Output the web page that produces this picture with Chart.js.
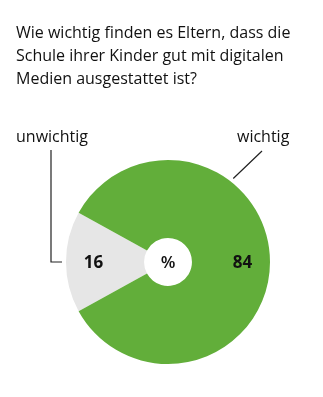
<!DOCTYPE html>
<html>
<head>
<meta charset="utf-8">
<script src="https://cdn.jsdelivr.net/npm/chart.js@4"></script>
<style>
  html, body { margin: 0; padding: 0; background: #fff; }
  #wrap { position: relative; width: 323px; height: 397px; }
  #title {
    position: absolute; left: 16px; top: 21px; width: 300px;
    font-family: "Open Sans", sans-serif; font-size: 16px; line-height: 23px;
    color: #111;
  }
</style>
</head>
<body>
<div id="wrap">
  <div id="title">Wie wichtig finden es Eltern, dass die Schule ihrer Kinder gut mit digitalen Medien ausgestattet ist?</div>
  <canvas id="chart" width="323" height="397"></canvas>
</div>
<script>
const categories = ['unwichtig', 'wichtig'];
const values = [16, 84];
const colors = ['#e6e6e6', '#62ae3a'];

// gray slice centred on the left side
const startAngle = 270 - values[0] / 100 * 360 / 2;

//Draws the values, the "%" in the hole and the two callouts
const labelPlugin = {
    id: 'labels',
    afterDatasetsDraw(chart) {
        const ctx = chart.ctx;
        const arcs = chart.getDatasetMeta(0).data;
        const cx = arcs[0].x, cy = arcs[0].y;
        const outer = arcs[0].outerRadius;
        ctx.save();
        ctx.fillStyle = '#111';
        ctx.textAlign = 'center';
        ctx.textBaseline = 'middle';
        ctx.font = 'bold 17px "Open Sans", sans-serif';
        arcs.forEach((arc, i) => {
            const mid = (arc.startAngle + arc.endAngle) / 2;
            const r = outer * 0.73;
            ctx.fillText(values[i], cx + Math.cos(mid) * r, cy + Math.sin(mid) * r + 1);
        });
        ctx.font = '600 17px "Open Sans", sans-serif';
        ctx.fillText('%', cx, cy + 1);

        // callout labels
        ctx.font = '16px "Open Sans", sans-serif';
        ctx.textAlign = 'left';
        ctx.fillText(categories[0], 16, 137);
        ctx.fillText(categories[1], 237, 137);

        ctx.strokeStyle = '#222';
        ctx.lineWidth = 1.2;
        ctx.beginPath();
        ctx.moveTo(51, 150);
        ctx.lineTo(51, cy);
        ctx.lineTo(cx - outer - 4, cy);
        const a = -52 * Math.PI / 180;
        ctx.moveTo(cx + Math.cos(a) * (outer + 4), cy + Math.sin(a) * (outer + 4));
        ctx.lineTo(262, 151);
        ctx.stroke();
        ctx.restore();
    }
};

new Chart(document.getElementById('chart'), {
    type: 'doughnut',
    data: {
        labels: categories,
        datasets: [{
            data: values,
            backgroundColor: colors,
            borderWidth: 0
        }]
    },
    options: {
        responsive: false,
        animation: false,
        cutout: '23.5%',
        rotation: startAngle,
        layout: { padding: { left: 66, right: 53, top: 160, bottom: 33 } },
        plugins: { legend: { display: false }, tooltip: { enabled: false } }
    },
    plugins: [labelPlugin]
});
</script>
</body>
</html>
